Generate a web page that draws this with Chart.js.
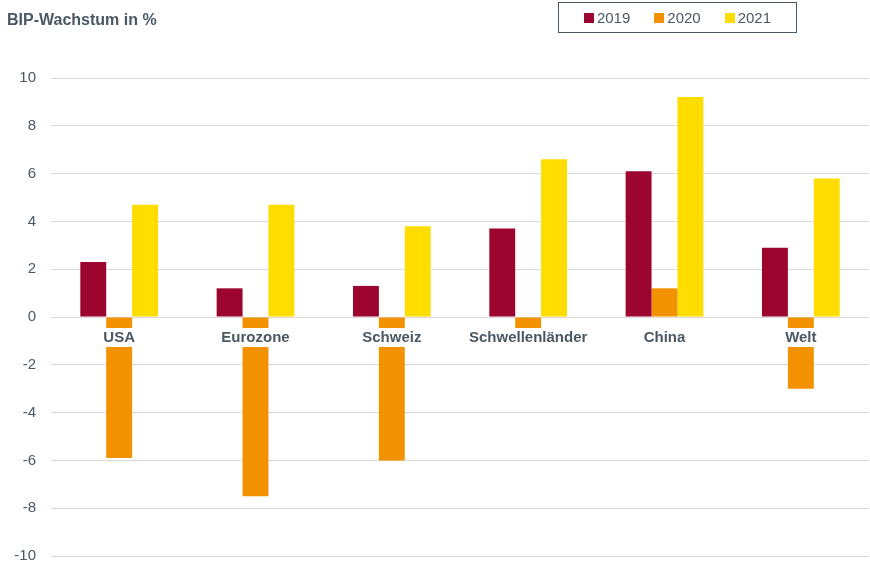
<!DOCTYPE html>
<html>
<head>
<meta charset="utf-8">
<script src="https://cdn.jsdelivr.net/npm/chart.js@4"></script>
<style>
  html, body { margin: 0; padding: 0; background: #fff; }
  #wrap { position: relative; width: 870px; height: 568px; }
  #title {
    position: absolute; left: 7px; top: 11px;
    font: bold 16px "Liberation Sans", Arial, sans-serif; color: #4a5864;
  }
  #legend {
    position: absolute; left: 558px; top: 2px; width: 237px; height: 29px;
    border: 1.5px solid #4a5864; display: flex; justify-content: center; align-items: center;
    font: 15px "Liberation Sans", Arial, sans-serif; color: #4a5864;
  }
  #legend span.item { display: inline-flex; align-items: center; margin: 0 12px; }
  #legend span.box { width: 10px; height: 10px; margin-right: 3px; display: inline-block; }
</style>
</head>
<body>
<div id="wrap">
  <canvas id="gdpChart" width="870" height="568"></canvas>
  <div id="title">BIP-Wachstum in %</div>
  <div id="legend"></div>
</div>
<script>
// Chart data
const regions = ['USA', 'Eurozone', 'Schweiz', 'Schwellenländer', 'China', 'Welt'];
const years = ['2019', '2020', '2021'];
const growth2019 = [2.3, 1.2, 1.3, 3.7, 6.1, 2.9];
const growth2020 = [-5.9, -7.5, -6.0, -1.0, 1.2, -3.0];
const growth2021 = [4.7, 4.7, 3.8, 6.6, 9.2, 5.8];
const yTicks = [-10, -8, -6, -4, -2, 0, 2, 4, 6, 8, 10];

const colors = ['#9b0530', '#f39200', '#ffdd00'];
const textColor = '#4a5864';
const fontFamily = '"Liberation Sans", Arial, sans-serif';

// Category labels sit on the zero line, on a white box that hides the bars behind them
const zeroLineLabels = {
  id: 'zeroLineLabels',
  afterDatasetsDraw(chart) {
    const c = chart.ctx;
    const x = chart.scales.x;
    const y0 = chart.scales.y.getPixelForValue(0);
    c.save();
    c.font = 'bold 15px ' + fontFamily;
    c.textAlign = 'center';
    c.textBaseline = 'middle';
    regions.forEach((name, i) => {
      const cx = x.getPixelForValue(i);
      const w = c.measureText(name).width;
      c.fillStyle = '#ffffff';
      c.fillRect(cx - w / 2 - 4, y0 + 11, w + 8, 19);
      c.fillStyle = textColor;
      c.fillText(name, cx, y0 + 21);
    });
    c.restore();
  }
};

const ctx = document.getElementById('gdpChart').getContext('2d');
const chart = new Chart(ctx, {
  type: 'bar',
  data: {
    labels: regions,
    datasets: [growth2019, growth2020, growth2021].map((values, i) => ({
      label: years[i],
      data: values,
      backgroundColor: colors[i],
      borderWidth: 0,
      barPercentage: 1,
      categoryPercentage: 0.57
    }))
  },
  options: {
    responsive: false,
    animation: false,
    layout: { padding: { top: 78, bottom: 12, left: 0, right: 1 } },
    plugins: {
      legend: { display: false },
      tooltip: { enabled: false }
    },
    scales: {
      x: {
        display: false
      },
      y: {
        min: -10,
        max: 10,
        afterBuildTicks: (scale) => { scale.ticks = yTicks.map(v => ({ value: v })); },
        afterFit: (scale) => {
          scale.width = 51;
          scale.paddingTop = 0;
          scale.paddingBottom = 0;
        },
        grid: { color: '#d9d9d9', lineWidth: 1, drawTicks: false },
        border: { display: false },
        ticks: {
          color: textColor,
          font: { family: fontFamily, size: 15 },
          padding: 15
        }
      }
    }
  },
  plugins: [zeroLineLabels]
});

// Legend built from the datasets
const legendEl = document.getElementById('legend');
chart.data.datasets.forEach(ds => {
  const item = document.createElement('span');
  item.className = 'item';
  item.innerHTML = '<span class="box" style="background:' + ds.backgroundColor + '"></span>' + ds.label;
  legendEl.appendChild(item);
});
</script>
</body>
</html>
